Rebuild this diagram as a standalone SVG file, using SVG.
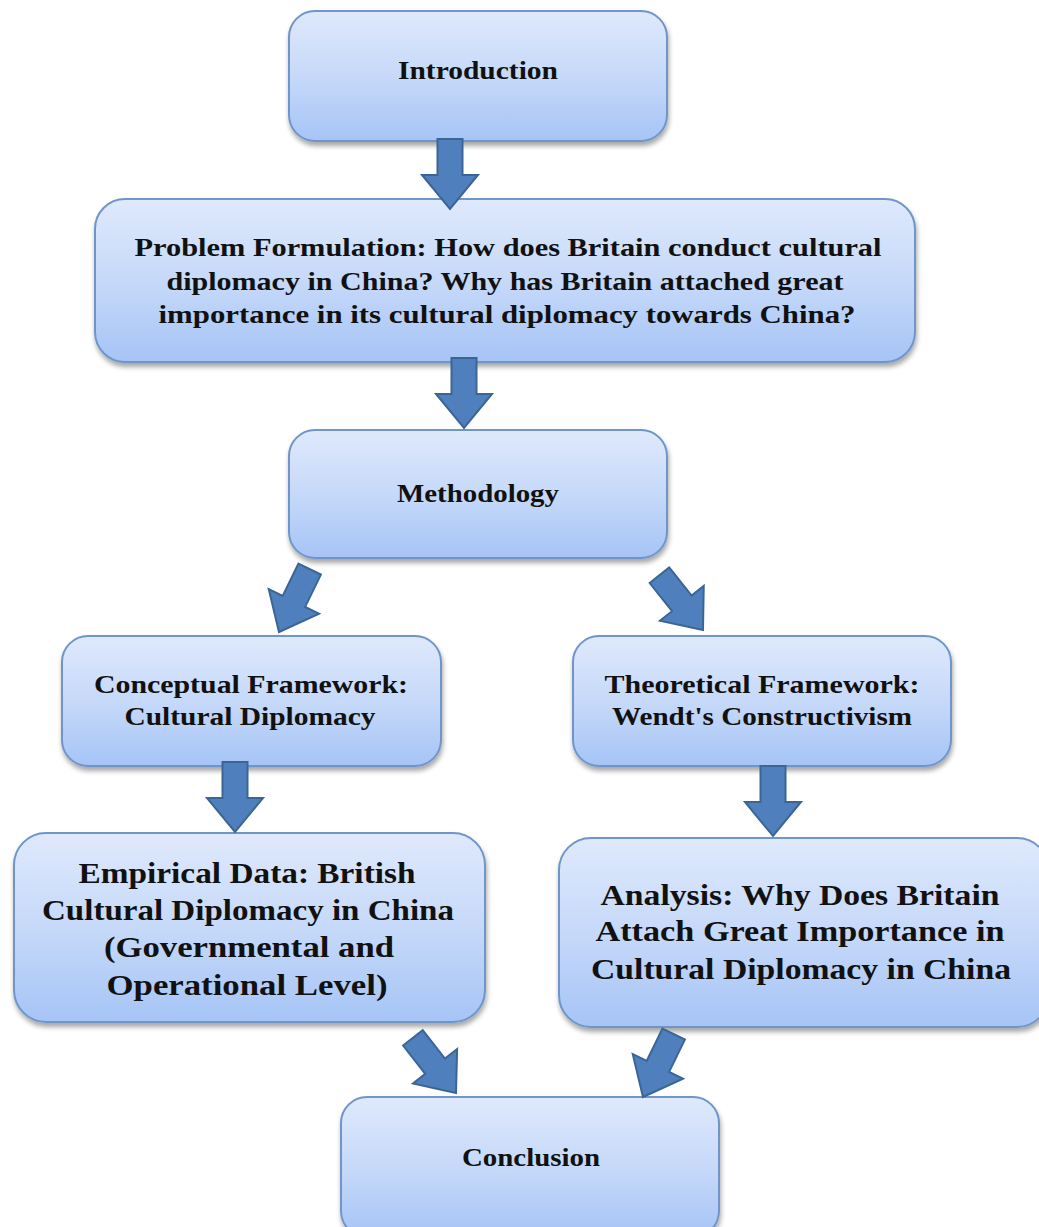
<svg xmlns="http://www.w3.org/2000/svg" width="1039" height="1227" viewBox="0 0 1039 1227">
<defs>
<linearGradient id="g" x1="0" y1="0" x2="0" y2="1">
<stop offset="0" stop-color="#dfe9fc"/>
<stop offset="0.5" stop-color="#c6d9f9"/>
<stop offset="1" stop-color="#a6c4f6"/>
</linearGradient>
<filter id="sh" x="-10%" y="-10%" width="120%" height="130%">
<feGaussianBlur in="SourceAlpha" stdDeviation="2.5"/>
<feOffset dx="1" dy="4"/>
<feComponentTransfer><feFuncA type="linear" slope="0.35"/></feComponentTransfer>
<feMerge><feMergeNode/><feMergeNode in="SourceGraphic"/></feMerge>
</filter>
<polygon id="arr" points="-12.5,-70 12.5,-70 12.5,-34 28,-34 0,0 -28,-34 -12.5,-34"/>
</defs>
<style>
.box{fill:url(#g);stroke:#6f95c9;stroke-width:2;filter:url(#sh)}
.t{font-family:"Liberation Serif","Times New Roman",serif;font-weight:bold;fill:#111;text-anchor:middle}
.s{font-size:25px}
.b{font-size:29px}
.a{fill:#4f80bd;stroke:#3b6595;stroke-width:2}
</style>
<rect width="1039" height="1227" fill="#fff"/>
<g id="introduction">
<rect class="box" x="289" y="11" width="378" height="130" rx="26"/>
<text class="t s" x="478" y="79" textLength="160" lengthAdjust="spacingAndGlyphs">Introduction</text>
</g>
<g id="problem">
<rect class="box" x="95" y="199" width="820" height="163" rx="30"/>
<text class="t s" x="508" y="256" textLength="747" lengthAdjust="spacingAndGlyphs">Problem Formulation: How does Britain conduct cultural</text>
<text class="t s" x="505" y="290" textLength="677" lengthAdjust="spacingAndGlyphs">diplomacy in China? Why has Britain attached great</text>
<text class="t s" x="507" y="323" textLength="697" lengthAdjust="spacingAndGlyphs">importance in its cultural diplomacy towards China?</text>
</g>
<g id="methodology">
<rect class="box" x="289" y="430" width="378" height="128" rx="26"/>
<text class="t s" x="478" y="502" textLength="162" lengthAdjust="spacingAndGlyphs">Methodology</text>
</g>
<g id="conceptual">
<rect class="box" x="62" y="636" width="379" height="130" rx="26"/>
<text class="t s" x="251" y="693" textLength="314" lengthAdjust="spacingAndGlyphs">Conceptual Framework:</text>
<text class="t s" x="250" y="725" textLength="251" lengthAdjust="spacingAndGlyphs">Cultural Diplomacy</text>
</g>
<g id="theoretical">
<rect class="box" x="573" y="636" width="378" height="130" rx="26"/>
<text class="t s" x="762" y="693" textLength="315" lengthAdjust="spacingAndGlyphs">Theoretical Framework:</text>
<text class="t s" x="762" y="725" textLength="300" lengthAdjust="spacingAndGlyphs">Wendt's Constructivism</text>
</g>
<g id="empirical">
<rect class="box" x="14" y="833" width="471" height="189" rx="32"/>
<text class="t b" x="247" y="883" textLength="337" lengthAdjust="spacingAndGlyphs">Empirical Data: British</text>
<text class="t b" x="248" y="920" textLength="412" lengthAdjust="spacingAndGlyphs">Cultural Diplomacy in China</text>
<text class="t b" x="249" y="957" textLength="290" lengthAdjust="spacingAndGlyphs">(Governmental and</text>
<text class="t b" x="247" y="995" textLength="281" lengthAdjust="spacingAndGlyphs">Operational Level)</text>
</g>
<g id="analysis">
<rect class="box" x="559" y="838" width="490" height="189" rx="32"/>
<text class="t b" x="800" y="905" textLength="399" lengthAdjust="spacingAndGlyphs">Analysis: Why Does Britain</text>
<text class="t b" x="800" y="941" textLength="409" lengthAdjust="spacingAndGlyphs">Attach Great Importance in</text>
<text class="t b" x="801" y="979" textLength="420" lengthAdjust="spacingAndGlyphs">Cultural Diplomacy in China</text>
</g>
<g id="conclusion">
<rect class="box" x="341" y="1097" width="378" height="140" rx="26"/>
<text class="t s" x="531" y="1166" textLength="138" lengthAdjust="spacingAndGlyphs">Conclusion</text>
</g>
<g id="connectors">
<use href="#arr" class="a" transform="translate(450,209)"/>
<use href="#arr" class="a" transform="translate(464,428)"/>
<use href="#arr" class="a" transform="translate(279,632) rotate(26)"/>
<use href="#arr" class="a" transform="translate(703,630) rotate(-38.5)"/>
<use href="#arr" class="a" transform="translate(235,832)"/>
<use href="#arr" class="a" transform="translate(773,836)"/>
<use href="#arr" class="a" transform="translate(456,1093) rotate(-38)"/>
<use href="#arr" class="a" transform="translate(643,1097) rotate(26)"/>
</g>
</svg>
